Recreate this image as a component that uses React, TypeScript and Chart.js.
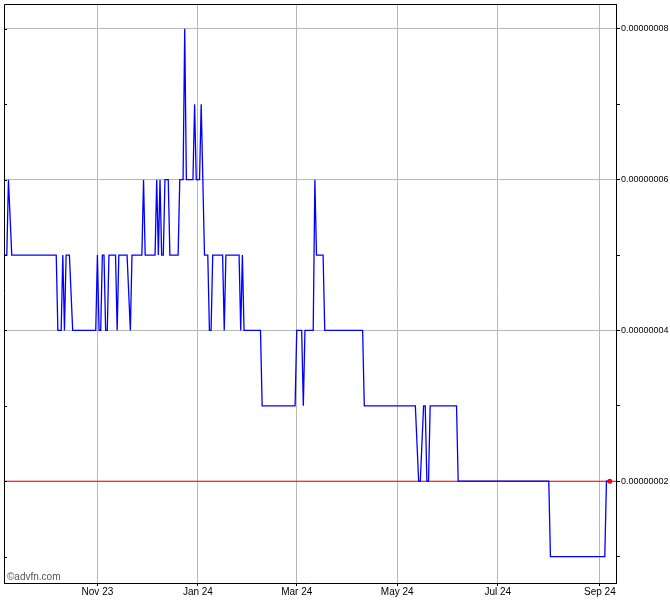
import React, { useEffect, useRef } from "react";
import { Chart, registerables } from "chart.js";

Chart.register(...registerables);

// ---- data ----
const dates = [
  "2023-09-06", "2023-09-07", "2023-09-08", "2023-09-10",
  "2023-10-07", "2023-10-08", "2023-10-10", "2023-10-11", "2023-10-12", "2023-10-13", "2023-10-15", "2023-10-17",
  "2023-10-31", "2023-11-01", "2023-11-02", "2023-11-03", "2023-11-04", "2023-11-05", "2023-11-06", "2023-11-07", "2023-11-08",
  "2023-11-12", "2023-11-13", "2023-11-14", "2023-11-19", "2023-11-21", "2023-11-22", "2023-11-28", "2023-11-29", "2023-11-30",
  "2023-12-06", "2023-12-07", "2023-12-08", "2023-12-09", "2023-12-10", "2023-12-11", "2023-12-12", "2023-12-14", "2023-12-15",
  "2023-12-19", "2023-12-20", "2023-12-21", "2023-12-23", "2023-12-24", "2023-12-25", "2023-12-28", "2023-12-29", "2023-12-30", "2023-12-31",
  "2024-01-01", "2024-01-02", "2024-01-03", "2024-01-04", "2024-01-05", "2024-01-07", "2024-01-08", "2024-01-09", "2024-01-10",
  "2024-01-16", "2024-01-17", "2024-01-18", "2024-01-26", "2024-01-27", "2024-01-28", "2024-01-29",
  "2024-02-08", "2024-02-09", "2024-02-29", "2024-03-01", "2024-03-04", "2024-03-05", "2024-03-06",
  "2024-03-11", "2024-03-12", "2024-03-13", "2024-03-17", "2024-03-18", "2024-04-10", "2024-04-11",
  "2024-05-12", "2024-05-14", "2024-05-15", "2024-05-17", "2024-05-18", "2024-05-19", "2024-05-20", "2024-05-21",
  "2024-06-06", "2024-06-07", "2024-08-01", "2024-08-02", "2024-09-04", "2024-09-05", "2024-09-07",
];

const prices = [
  0.00000005, 0.00000005, 0.00000006, 0.00000005,
  0.00000005, 0.00000004, 0.00000004, 0.00000005, 0.00000004, 0.00000005, 0.00000005, 0.00000004,
  0.00000004, 0.00000005, 0.00000004, 0.00000004, 0.00000005, 0.00000005, 0.00000004, 0.00000004, 0.00000005,
  0.00000005, 0.00000004, 0.00000005, 0.00000005, 0.00000004, 0.00000005, 0.00000005, 0.00000006, 0.00000005,
  0.00000005, 0.00000006, 0.00000005, 0.00000006, 0.00000005, 0.00000005, 0.00000006, 0.00000006, 0.00000005,
  0.00000005, 0.00000005, 0.00000006, 0.00000006, 0.00000008, 0.00000006, 0.00000006, 0.00000006, 0.00000007, 0.00000006,
  0.00000006, 0.00000006, 0.00000007, 0.00000006, 0.00000005, 0.00000005, 0.00000004, 0.00000004, 0.00000005,
  0.00000005, 0.00000004, 0.00000005, 0.00000005, 0.00000004, 0.00000005, 0.00000004,
  0.00000004, 0.00000003, 0.00000003, 0.00000004, 0.00000004, 0.00000003, 0.00000004,
  0.00000004, 0.00000006, 0.00000005, 0.00000005, 0.00000004, 0.00000004, 0.00000003,
  0.00000003, 0.00000002, 0.00000002, 0.00000003, 0.00000003, 0.00000002, 0.00000002, 0.00000003,
  0.00000003, 0.00000002, 0.00000002, 0.00000001, 0.00000001, 0.00000002, 0.00000002,
];

const tickDates = ["2023-11-01", "2024-01-01", "2024-03-01", "2024-05-01", "2024-07-01", "2024-09-01"];
const tickLabels = ["Nov 23", "Jan 24", "Mar 24", "May 24", "Jul 24", "Sep 24"];
const yTickValues = [
  0.00000001, 0.00000002, 0.00000003, 0.00000004,
  0.00000005, 0.00000006, 0.00000007, 0.00000008,
];
const referencePrice = 0.00000002;
const yMin = 0.0000000065;
const yMax = 0.0000000833;
const padDaysBefore = 0.7;
const padDaysAfter = 3.8;

// ---- helpers ----
const EPOCH = Date.UTC(2023, 10, 1);
const dayOf = (s: string) => {
  const [y, m, d] = s.split("-").map(Number);
  return (Date.UTC(y, m - 1, d) - EPOCH) / 86400000;
};
const isLabelled = (v: number) => Math.round(v * 1e8) % 2 === 0;

const framePlugin = {
  id: "frame",
  afterDraw(chart: any) {
    const { ctx, chartArea, scales } = chart;
    const { left, top, right, bottom } = chartArea;
    ctx.save();
    ctx.strokeStyle = "#000";
    ctx.lineWidth = 1;
    ctx.beginPath();
    ctx.moveTo(left + 0.5, bottom);
    ctx.lineTo(left + 0.5, top + 0.5);
    ctx.lineTo(right, top + 0.5);
    yTickValues.forEach((v) => {
      const py = Math.round(scales.y.getPixelForValue(v)) + 0.5;
      ctx.moveTo(left, py);
      ctx.lineTo(left + 3, py);
    });
    ctx.stroke();
    ctx.restore();
  },
};

export default function App() {
  const canvasRef = useRef<HTMLCanvasElement | null>(null);

  useEffect(() => {
    document.body.style.margin = "0";
    const canvas = canvasRef.current;
    if (!canvas) return;

    const series = dates.map((d, i) => ({ x: dayOf(d), y: prices[i] }));
    const xMin = dayOf(dates[0]) - padDaysBefore;
    const xMax = dayOf(dates[dates.length - 1]) + padDaysAfter;
    const last = series[series.length - 1];
    const tickPositions = tickDates.map(dayOf);

    const chart = new Chart(canvas, {
      type: "line",
      data: {
        datasets: [
          {
            label: "last",
            data: [last],
            showLine: false,
            pointRadius: 2.5,
            pointBackgroundColor: "#ff0000",
            pointBorderColor: "#ff0000",
            pointBorderWidth: 0,
          },
          {
            label: "price",
            data: series,
            borderColor: "#0000ff",
            borderWidth: 1.3,
            pointRadius: 0,
            tension: 0,
            fill: false,
          },
          {
            label: "reference",
            data: [
              { x: xMin, y: referencePrice },
              { x: xMax, y: referencePrice },
            ],
            borderColor: "#ff0000",
            borderWidth: 1,
            pointRadius: 0,
            fill: false,
          },
        ],
      },
      options: {
        responsive: false,
        animation: false,
        events: [],
        layout: { padding: { left: 3, top: 3, right: 0, bottom: 0 } },
        plugins: {
          legend: { display: false },
          tooltip: { enabled: false },
        },
        scales: {
          x: {
            type: "linear",
            min: xMin,
            max: xMax,
            afterBuildTicks: (scale: any) => {
              scale.ticks = tickPositions.map((v) => ({ value: v }));
            },
            afterFit: (scale: any) => {
              scale.height = 17;
              scale.paddingLeft = 0;
              scale.paddingRight = 0;
            },
            border: { display: true, color: "#000", width: 1 },
            grid: {
              color: "#b8b8b8",
              lineWidth: 1,
              drawTicks: true,
              tickLength: 3,
              tickColor: "#000",
            },
            ticks: {
              autoSkip: false,
              maxRotation: 0,
              padding: 0,
              color: "#000",
              font: { family: "'Liberation Sans', Arial, sans-serif", size: 10 },
              callback: (v: any) => {
                const idx = tickPositions.indexOf(Number(v));
                return idx >= 0 ? tickLabels[idx] : "";
              },
            },
          },
          y: {
            type: "linear",
            position: "right",
            min: yMin,
            max: yMax,
            afterBuildTicks: (scale: any) => {
              scale.ticks = yTickValues.map((v) => ({ value: v }));
            },
            afterFit: (scale: any) => {
              scale.width = 54;
              scale.paddingTop = 0;
              scale.paddingBottom = 0;
            },
            border: { display: true, color: "#000", width: 1 },
            grid: {
              color: (c: any) => (c.tick && isLabelled(c.tick.value) ? "#b8b8b8" : "rgba(0,0,0,0)"),
              lineWidth: 1,
              drawTicks: true,
              tickLength: 4,
              tickColor: "#000",
            },
            ticks: {
              padding: 1,
              color: "#000",
              font: { family: "'Liberation Sans', Arial, sans-serif", size: 9 },
              callback: (v: any) => (isLabelled(Number(v)) ? Number(v).toFixed(8) : ""),
            },
          },
        },
      },
      plugins: [framePlugin],
    });

    return () => chart.destroy();
  }, []);

  return (
    <div style={{ position: "relative", width: 670, height: 600, background: "#fff" }}>
      <canvas ref={canvasRef} width={670} height={600} style={{ display: "block" }} />
      <span
        style={{
          position: "absolute",
          left: 7,
          top: 571,
          fontFamily: "'Liberation Sans', Arial, sans-serif",
          fontSize: 10,
          color: "#555",
          lineHeight: "12px",
        }}
      >
        ©advfn.com
      </span>
    </div>
  );
}
